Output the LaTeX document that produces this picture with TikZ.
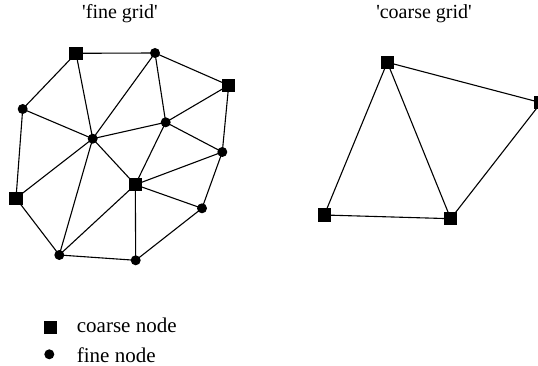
\documentclass[tikz,border=0pt]{standalone}
\usepackage{fontspec}
\setmainfont{Liberation Serif}
\begin{document}
\begin{tikzpicture}[x=1pt,y=-1pt,
  coarse/.style={draw=none,fill=black,minimum size=13.5pt,inner sep=0pt,outer sep=0pt,rectangle},
  fine/.style={draw=none,fill=black,minimum size=10pt,inner sep=0pt,outer sep=0pt,circle},
  edge/.style={line width=1.1pt,black},
  lbl/.style={font=\fontsize{20}{24}\selectfont,inner sep=0pt,anchor=base},
  leg/.style={font=\fontsize{21}{25}\selectfont,inner sep=0pt,anchor=base west}]
\useasboundingbox (0,0) rectangle (538,366);
\clip (0,0) rectangle (538,366);
% fine grid
\coordinate (A) at (76,53.3);
\coordinate (B) at (155,53);
\coordinate (C) at (228.7,85.3);
\coordinate (D) at (22.7,109);
\coordinate (E) at (92.7,138.7);
\coordinate (F) at (165.7,122.3);
\coordinate (G) at (222.3,152);
\coordinate (H) at (135.3,184.7);
\coordinate (I) at (16,198.3);
\coordinate (J) at (202,208.3);
\coordinate (K) at (59.3,255);
\coordinate (L) at (135.7,260.3);
\foreach \u/\v in {A/B,B/C,A/D,A/E,B/E,B/F,C/F,C/G,D/E,D/I,E/F,E/H,E/I,E/K,F/H,F/G,H/G,H/J,H/K,H/L,G/J,J/L,I/K,K/L}
  \draw[edge] (\u) -- (\v);
\foreach \n in {A,C,H,I} \node[coarse] (n\n) at (\n) {};
\foreach \n in {B,D,E,F,G,J,K,L} \node[fine] (n\n) at (\n) {};
% coarse grid
\coordinate (P) at (387.3,62.3);
\coordinate (Q) at (541,102.7);
\coordinate (R) at (324.3,215);
\coordinate (S) at (450.7,218.7);
\foreach \u/\v in {P/Q,P/R,P/S,R/S,S/Q}
  \draw[edge] (\u) -- (\v);
\foreach \n in {P,Q,R,S} \node[coarse] (n\n) at (\n) {};
% titles
\node[lbl] (t1) at (120,19) {\textquotesingle fine grid\textquotesingle};
\node[lbl] (t2) at (424,19) {\textquotesingle coarse grid\textquotesingle};
% legend
\node[coarse,minimum size=13pt] (lc) at (50,327) {};
\node[fine] (lf) at (49.3,354.3) {};
\node[leg] (lct) at (76.7,332.3) {coarse node};
\node[leg] (lft) at (76.7,362.5) {fine node};
\end{tikzpicture}
\end{document}
